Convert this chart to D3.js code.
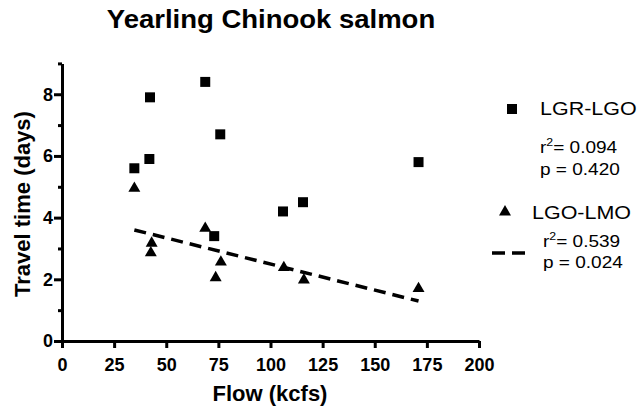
<!DOCTYPE html>
<html>
<head>
<meta charset="utf-8">
<script src="https://cdn.jsdelivr.net/npm/d3@7"></script>
<style>
  body { margin: 0; background: #fff; }
  svg { font-family: Arial, "Liberation Sans", sans-serif; }
  .axis path, .axis line { stroke: #000; stroke-width: 3; }
  .axis text { font-size: 18px; font-weight: bold; fill: #000; }
</style>
</head>
<body>
<div id="chart"></div>
<script>
var width = 641, height = 410;

// LGR-LGO travel times (squares)
var lgrFlow = [34.7, 42.2, 41.9, 68.7, 75.9, 73.0, 106, 115.6, 171];
var lgrDays = [5.6, 7.9, 5.9, 8.4, 6.7, 3.4, 4.2, 4.5, 5.8];

// LGO-LMO travel times (triangles)
var lgoFlow = [34.7, 43.0, 42.6, 68.7, 73.7, 76.2, 106.4, 116, 171];
var lgoDays = [4.95, 3.17, 2.86, 3.65, 2.05, 2.56, 2.38, 1.98, 1.7];

var xTicks = [0, 25, 50, 75, 100, 125, 150, 175, 200];
var yMajor = [0, 2, 4, 6, 8];
var yMinor = [1, 3, 5, 7, 9];

var legendNames = ["LGR-LGO", "LGO-LMO"];
var legendR2 = ["= 0.094", "= 0.539"];
var legendP = ["p = 0.420", "p = 0.024"];

var x = d3.scaleLinear().domain([0, 200]).range([62, 479]),
    y = d3.scaleLinear().domain([0, 9]).range([341, 63.4]);

var svg = d3.select("#chart").append("svg")
    .attr("width", width)
    .attr("height", height);

// text that is a bit wider than the font draws it
function wide(sel, tx, ty, sx) {
  return sel.append("text")
      .attr("transform", "translate(" + tx + "," + ty + ") scale(" + sx + ",1)");
}

// axes
svg.append("g")
    .attr("class", "axis")
    .attr("transform", "translate(0," + y(0) + ")")
    .call(d3.axisBottom(x).tickValues(xTicks).tickSize(7).tickSizeOuter(0).tickPadding(10));

svg.append("g")
    .attr("class", "axis")
    .attr("transform", "translate(" + x(0) + ",0)")
    .call(d3.axisLeft(y).tickValues(yMinor).tickSize(4).tickSizeOuter(0).tickFormat(""));

svg.append("g")
    .attr("class", "axis")
    .attr("transform", "translate(" + x(0) + ",0)")
    .call(d3.axisLeft(y).tickValues(yMajor).tickSize(8).tickSizeOuter(0).tickPadding(1));

// regression line for LGO-LMO
var mx = d3.mean(lgoFlow), my = d3.mean(lgoDays);
var sxy = d3.sum(lgoFlow, function(d, i) { return (d - mx) * (lgoDays[i] - my); }),
    sxx = d3.sum(lgoFlow, function(d) { return (d - mx) * (d - mx); });
var slope = sxy / sxx, icpt = my - slope * mx;
var ext = d3.extent(lgoFlow);

svg.append("line")
    .attr("x1", x(ext[0])).attr("y1", y(icpt + slope * ext[0]))
    .attr("x2", x(ext[1])).attr("y2", y(icpt + slope * ext[1]))
    .attr("stroke", "#000")
    .attr("stroke-width", 3.5)
    .attr("stroke-dasharray", "12,7");

var square = d3.symbol().type(d3.symbolSquare).size(100),
    triangle = d3.symbol().type(d3.symbolTriangle).size(62);

svg.append("g").selectAll("path")
    .data(lgrFlow)
  .enter().append("path")
    .attr("d", square)
    .attr("transform", function(d, i) { return "translate(" + x(d) + "," + y(lgrDays[i]) + ")"; });

svg.append("g").selectAll("path")
    .data(lgoFlow)
  .enter().append("path")
    .attr("d", triangle)
    .attr("transform", function(d, i) { return "translate(" + x(d) + "," + y(lgoDays[i]) + ")"; });

// titles
wide(svg, 271, 28, 1.1)
    .attr("text-anchor", "middle")
    .style("font-size", "25px").style("font-weight", "bold")
    .text("Yearling Chinook salmon");

svg.append("text")
    .attr("x", 270).attr("y", 401)
    .attr("text-anchor", "middle")
    .style("font-size", "22px").style("font-weight", "bold")
    .text("Flow (kcfs)");

svg.append("text")
    .attr("transform", "translate(30,204) rotate(-90)")
    .attr("text-anchor", "middle")
    .style("font-size", "22px").style("font-weight", "bold")
    .text("Travel time (days)");

// legend
var leg = svg.append("g");

leg.append("path").attr("d", square).attr("transform", "translate(512,109)");
leg.append("path").attr("d", triangle).attr("transform", "translate(505,212)");
leg.append("line")
    .attr("x1", 492).attr("x2", 526).attr("y1", 253).attr("y2", 253)
    .attr("stroke", "#000").attr("stroke-width", 3.5).attr("stroke-dasharray", "13,7");

var nameX = [540, 532], nameY = [114.5, 218.5],
    statX = [540, 543], r2Y = [152.7, 246.7], pY = [175, 268.3];

legendNames.forEach(function(name, i) {
  wide(leg, nameX[i], nameY[i], 1.13).style("font-size", "19px").text(name);

  var t = wide(leg, statX[i], r2Y[i], 1.12).style("font-size", "17px");
  t.append("tspan").text("r");
  t.append("tspan").attr("dy", -7).style("font-size", "11px").text("2");
  t.append("tspan").attr("dy", 7).text(legendR2[i]);

  wide(leg, statX[i], pY[i], 1.12).style("font-size", "17px").text(legendP[i]);
});
</script>
</body>
</html>
